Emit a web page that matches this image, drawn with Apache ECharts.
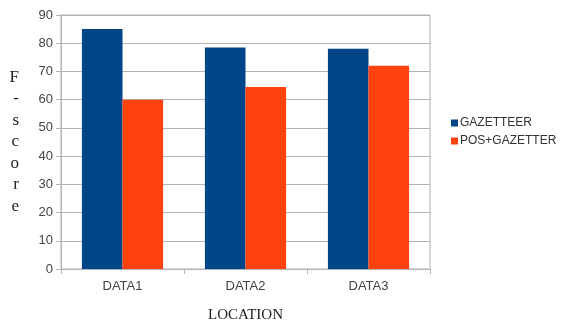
<!DOCTYPE html>
<html>
<head>
<meta charset="utf-8">
<script src="https://cdn.jsdelivr.net/npm/echarts@6/dist/echarts.min.js"></script>
<style>
  html, body { margin: 0; padding: 0; background: #fff; }
  #chart { width: 561px; height: 320px; }
</style>
</head>
<body>
<div id="chart"></div>
<script>
var categories = ['DATA1', 'DATA2', 'DATA3'];
var gazetteer = [85, 78.5, 78];
var posGazetter = [60, 64.5, 72];

(function(){
    var myChart = echarts.init(document.getElementById('chart'));
    var option = {
        animation: false,
        grid: {
            left: 61, right: 131, top: 15, bottom: 51,
            outerBoundsMode: 'none',
            containLabel: false,
            show: true,
            borderColor: '#b3b3b3',
            borderWidth: 1
        },
        legend: {
            orient: 'vertical',
            left: 446,
            top: 112,
            itemWidth: 7,
            itemHeight: 7,
            itemGap: 6,
            icon: 'rect',
            textStyle: { fontFamily: 'Liberation Sans', fontSize: 12, color: '#333', padding: [0, 0, 0, -3] },
            data: ['GAZETTEER', 'POS+GAZETTER']
        },
        xAxis: {
            type: 'category',
            data: categories,
            name: 'LOCATION',
            nameLocation: 'middle',
            nameGap: 39,
            nameTextStyle: { fontFamily: 'Liberation Serif', fontSize: 15, color: '#222' },
            axisLine: { lineStyle: { color: '#b3b3b3' } },
            axisTick: { show: true, length: 5, lineStyle: { color: '#b3b3b3' } },
            axisLabel: { fontFamily: 'Liberation Sans', fontSize: 13, color: '#444', margin: 11 }
        },
        yAxis: {
            type: 'value',
            min: 0,
            max: 90,
            interval: 10,
            name: 'F\n-\ns\nc\no\nr\ne',
            nameLocation: 'middle',
            nameRotate: 0,
            nameGap: 42,
            nameTextStyle: { fontFamily: 'Liberation Serif', fontSize: 17, color: '#222', lineHeight: 21.5 },
            axisLine: { show: true, lineStyle: { color: '#b3b3b3' } },
            axisTick: { show: true, length: 5, lineStyle: { color: '#b3b3b3' } },
            axisLabel: { fontFamily: 'Liberation Sans', fontSize: 13, color: '#444', margin: 8 },
            splitLine: { lineStyle: { color: '#b3b3b3' } }
        },
        series: [
            {
                name: 'GAZETTEER',
                type: 'bar',
                data: gazetteer,
                barGap: '0%',
                barCategoryGap: '34%',
                itemStyle: { color: '#004586' }
            },
            {
                name: 'POS+GAZETTER',
                type: 'bar',
                data: posGazetter,
                itemStyle: { color: '#ff420e' }
            }
        ]
    };
    myChart.setOption(option);
})();
</script>
</body>
</html>
